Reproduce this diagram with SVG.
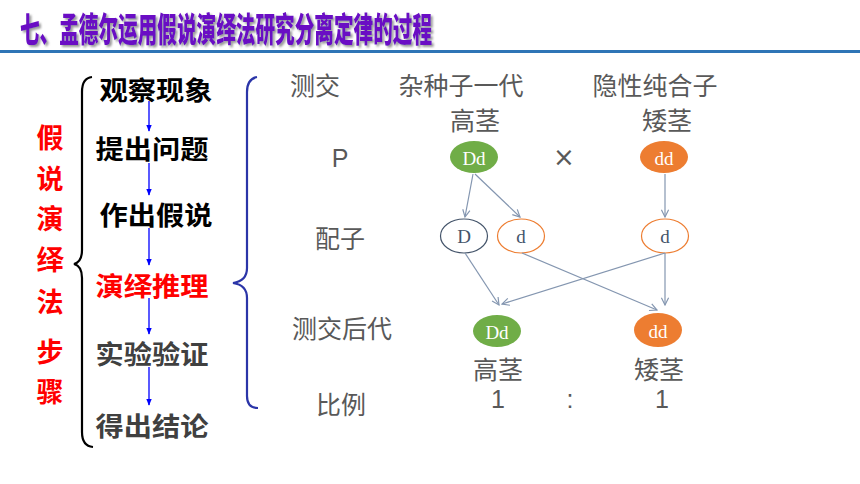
<svg xmlns="http://www.w3.org/2000/svg" width="860" height="484" viewBox="0 0 860 484">
<defs>
<style>
.title{font-family:"Noto Sans CJK SC","Noto Sans",sans-serif;font-weight:900;font-size:34px;fill:#6B10C4}
.red{font-family:"Noto Sans CJK SC","Noto Sans",sans-serif;font-weight:700;font-size:27px;fill:#FF0000}
.step{font-family:"Noto Sans CJK SC","Noto Sans",sans-serif;font-weight:700;font-size:26px;fill:#000}
.gray{font-family:"Noto Sans CJK SC","Noto Sans",sans-serif;font-size:25px;fill:#595959}
.g{font-family:"Liberation Serif","DejaVu Serif",serif;font-size:19px;fill:#fff}
.gd{font-family:"Liberation Serif","DejaVu Serif",serif;font-size:19px;fill:#44546A}
.c{text-anchor:middle;dominant-baseline:central}
.conn{stroke:#8496B0;stroke-width:1.2;fill:none}
.bconn{stroke:#0000FF;stroke-width:1.3;fill:none}
</style>
<filter id="sh" x="-5%" y="-30%" width="110%" height="160%">
<feDropShadow dx="2" dy="2" stdDeviation="1" flood-color="#808080" flood-opacity="0.8"/>
</filter>
<marker id="ah" viewBox="0 0 10 10" refX="9" refY="5" markerWidth="9" markerHeight="9" markerUnits="userSpaceOnUse" orient="auto">
<path d="M1,1 L9,5 L1,9" fill="none" stroke="#8496B0" stroke-width="1.3"/>
</marker>
<marker id="bh" viewBox="0 0 10 10" refX="9" refY="5" markerWidth="7" markerHeight="7" markerUnits="userSpaceOnUse" orient="auto">
<path d="M0,1 L10,5 L0,9 Z" fill="#0000FF"/>
</marker>
</defs>
<rect width="860" height="484" fill="#fff"/>
<g id="title">
<text class="title" x="20" y="27" dominant-baseline="central" textLength="412" lengthAdjust="spacingAndGlyphs" filter="url(#sh)">七、孟德尔运用假说演绎法研究分离定律的过程</text>
<line x1="0" y1="51.5" x2="860" y2="51.5" stroke="#2E75B6" stroke-width="3"/>
</g>
<g id="side-label">
<text class="red c" x="50" y="136">假</text>
<text class="red c" x="50" y="177">说</text>
<text class="red c" x="50" y="217">演</text>
<text class="red c" x="50" y="258">绎</text>
<text class="red c" x="50" y="300">法</text>
<text class="red c" x="50" y="350">步</text>
<text class="red c" x="50" y="390">骤</text>
</g>
<g id="brace-left">
<path d="M92,77 Q82,78 82,92 L82,250 Q82,262 74,264 Q82,266 82,278 L82,432 Q82,446 93,447" fill="none" stroke="#000" stroke-width="2.2"/>
</g>
<g id="step1"><text class="step c" x="156" y="88.5" textLength="113" lengthAdjust="spacingAndGlyphs">观察现象</text></g>
<g id="step2"><text class="step c" x="152" y="147" textLength="113" lengthAdjust="spacingAndGlyphs">提出问题</text></g>
<g id="step3"><text class="step c" x="156" y="213" textLength="113" lengthAdjust="spacingAndGlyphs">作出假说</text></g>
<g id="step4"><text class="step c" x="152" y="284" textLength="113" lengthAdjust="spacingAndGlyphs" style="fill:#FF0000">演绎推理</text></g>
<g id="step5"><text class="step c" x="152" y="352" textLength="113" lengthAdjust="spacingAndGlyphs" style="fill:#404040">实验验证</text></g>
<g id="step6"><text class="step c" x="152" y="424" textLength="113" lengthAdjust="spacingAndGlyphs" style="fill:#404040">得出结论</text></g>
<g id="brace-right">
<path d="M257,77 Q247,79 247,92 L247,268 Q247,281 233,283 Q247,285 247,298 L247,396 Q247,408 258,408" fill="none" stroke="#2B35A8" stroke-width="2.2"/>
</g>
<g id="labels">
<text class="gray c" x="315" y="83.5">测交</text>
<text class="gray c" x="461" y="83.5">杂种子一代</text>
<text class="gray c" x="655" y="83.5">隐性纯合子</text>
<text class="gray c" x="475" y="119">高茎</text>
<text class="gray c" x="667" y="119">矮茎</text>
<text class="gray c" x="340" y="158" style="font-family:'Liberation Sans',sans-serif">P</text>
<text class="gray c" x="564" y="157" style="font-family:'DejaVu Sans',sans-serif;font-size:26px">×</text>
<text class="gray c" x="340" y="237">配子</text>
<text class="gray c" x="342" y="327">测交后代</text>
<text class="gray c" x="498" y="368">高茎</text>
<text class="gray c" x="659" y="368">矮茎</text>
<text class="gray c" x="341" y="403">比例</text>
<text class="gray c" x="498" y="399" style="font-family:'Liberation Sans',sans-serif">1</text>
<text class="gray c" x="570" y="399" style="font-family:'Liberation Sans',sans-serif">:</text>
<text class="gray c" x="662" y="399" style="font-family:'Liberation Sans',sans-serif">1</text>
</g>
<g id="P-Dd"><ellipse cx="474" cy="157" rx="24" ry="16" fill="#70AD47"/><text class="g c" x="474" y="158">Dd</text></g>
<g id="P-dd"><ellipse cx="664" cy="157" rx="24" ry="16" fill="#ED7D31"/><text class="g c" x="664" y="158">dd</text></g>
<g id="gamete-D"><ellipse cx="464" cy="236" rx="23.5" ry="17" fill="#fff" stroke="#44546A" stroke-width="1.2"/><text class="gd c" x="464" y="236">D</text></g>
<g id="gamete-d1"><ellipse cx="521" cy="236" rx="23.5" ry="17" fill="#fff" stroke="#ED7D31" stroke-width="1.2"/><text class="gd c" x="521" y="236">d</text></g>
<g id="gamete-d2"><ellipse cx="665" cy="236" rx="23.5" ry="17" fill="#fff" stroke="#ED7D31" stroke-width="1.2"/><text class="gd c" x="665" y="236">d</text></g>
<g id="F-Dd"><ellipse cx="497" cy="331" rx="24" ry="16" fill="#70AD47"/><text class="g c" x="497" y="332">Dd</text></g>
<g id="F-dd"><ellipse cx="658" cy="330" rx="24" ry="17" fill="#ED7D31"/><text class="g c" x="658" y="331">dd</text></g>
<g id="connectors">
<line class="bconn" x1="149" y1="101" x2="149" y2="131" marker-end="url(#bh)"/>
<line class="bconn" x1="149" y1="163" x2="149" y2="195" marker-end="url(#bh)"/>
<line class="bconn" x1="149" y1="228" x2="149" y2="265" marker-end="url(#bh)"/>
<line class="bconn" x1="149" y1="298" x2="149" y2="334" marker-end="url(#bh)"/>
<line class="bconn" x1="149" y1="367" x2="149" y2="405" marker-end="url(#bh)"/>
<line class="conn" x1="473" y1="174" x2="465" y2="217" marker-end="url(#ah)"/>
<line class="conn" x1="475" y1="174" x2="520" y2="217" marker-end="url(#ah)"/>
<line class="conn" x1="665" y1="174" x2="665" y2="217" marker-end="url(#ah)"/>
<line class="conn" x1="465" y1="253" x2="499" y2="305" marker-end="url(#ah)"/>
<line class="conn" x1="665" y1="253" x2="502" y2="304" marker-end="url(#ah)"/>
<line class="conn" x1="522" y1="253" x2="657" y2="310" marker-end="url(#ah)"/>
<line class="conn" x1="665" y1="253" x2="665" y2="305" marker-end="url(#ah)"/>
</g>
</svg>
